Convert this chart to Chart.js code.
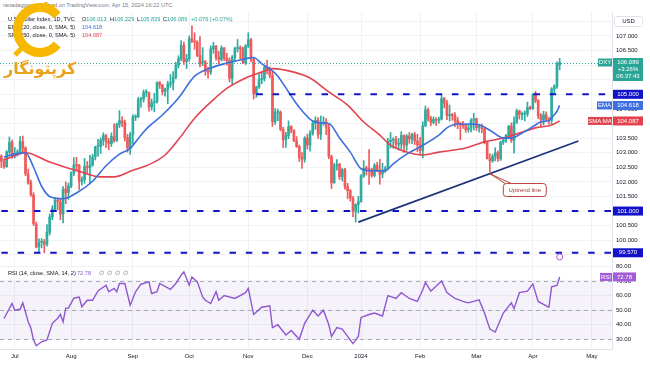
<!DOCTYPE html>
<html>
<head>
<meta charset="utf-8">
<script src="https://cdn.jsdelivr.net/npm/chart.js@4.4.1/dist/chart.umd.min.js"></script>
<style>
  body { margin: 0; background: #fff; width: 650px; height: 365px; overflow: hidden; position: relative; font-family: 'Liberation Sans', Arial, sans-serif; }
  #main { position: absolute; left: 0; top: 12px; }
  #rsi { position: absolute; left: 0; top: 263px; }
  .t { position: absolute; white-space: pre; font-size: 5.6px; line-height: 7px; color: #131722; }
  .teal { color: #26a69a; }
  #logo { position: absolute; left: 0; top: 0; }
  #fa { position: absolute; left: 4px; top: 59px; font-family: 'DejaVu Sans', sans-serif; font-weight: bold; font-size: 16px; color: #eaa21c; direction: rtl; }
</style>
</head>
<body>
<canvas id="main" width="650" height="251"></canvas>
<canvas id="rsi" width="650" height="102"></canvas>

<div class="t" style="left:3px;top:2px;color:#787b86">ranadagger published on TradingView.com, Apr 15, 2024 16:22 UTC</div>
<div class="t" style="left:8px;top:16px">U.S. Dollar Index, 1D, TVC</div>
<div class="t" style="left:82px;top:16px">O<span class="teal">106.013</span></div>
<div class="t" style="left:110px;top:16px">H<span class="teal">106.229</span></div>
<div class="t" style="left:137px;top:16px">L<span class="teal">105.839</span></div>
<div class="t" style="left:163px;top:16px">C<span class="teal">106.089</span></div>
<div class="t teal" style="left:191px;top:16px">+0.076 (+0.07%)</div>
<div class="t" style="left:8px;top:24px">EMA (20, close, 0, SMA, 5)</div>
<div class="t" style="left:82px;top:24px;color:#3d6fe0">104.618</div>
<div class="t" style="left:8px;top:32px">SMA (50, close, 0, SMA, 5)</div>
<div class="t" style="left:82px;top:32px;color:#e2444f">104.087</div>
<div class="t" style="left:8px;top:270px">RSI (14, close, SMA, 14, 2)</div>
<div class="t" style="left:77px;top:270px;color:#8f57d1">72.78</div>
<div class="t" style="left:99px;top:270px;color:#787b86">∅  ∅  ∅  ∅</div>

<svg id="logo" width="90" height="62">
  <path d="M57.2,15.5 A22.5,22.5 0 1 0 57.2,44.5" fill="none" stroke="#f6b800" stroke-width="9"/>
  <line x1="27" y1="43" x2="15" y2="55" stroke="#f6b800" stroke-width="5"/>
  <line x1="46" y1="2" x2="46" y2="9" stroke="#f6b800" stroke-width="3"/>
  <line x1="53" y1="4" x2="53" y2="11" stroke="#f6b800" stroke-width="3"/>
</svg>
<div id="fa">کرپتونگار</div>

<script>
const startDate = '2023-06-26';
const holidays = ['2023-12-25', '2024-01-01'];
const barCount = 228;
const monthNames = ['Jul', 'Aug', 'Sep', 'Oct', 'Nov', 'Dec', '2024', 'Feb', 'Mar', 'Apr', 'May'];

// daily OHLC, Jun 26 2023 -> Apr 15 2024
const opens = [
  102.88,102.70,102.52,103.02,103.36,
  102.90,102.98,103.00,103.38,103.16,102.27,101.97,101.55,100.55,99.77,99.93,99.95,99.86,100.27,100.80,101.06,101.37,101.32,100.90,101.75,101.63,
  101.85,102.30,102.60,102.57,102.02,102.08,102.52,102.49,102.58,102.86,103.21,103.22,103.43,103.58,103.38,103.31,103.55,103.42,103.97,104.09,104.05,103.51,103.15,
  103.63,104.22,104.23,104.82,104.84,105.06,105.06,104.57,104.71,104.74,105.40,105.32,105.09,105.18,105.35,105.39,105.58,106.00,106.22,106.68,106.12,
  106.21,106.90,106.82,106.78,106.33,106.10,106.11,105.78,105.76,106.56,106.65,106.26,106.20,106.59,106.24,106.16,105.55,106.26,106.57,106.60,106.56,106.08,
  106.66,106.87,106.20,105.02,105.25,105.50,105.54,105.93,105.87,105.65,104.06,104.38,104.39,103.80,103.44,103.59,103.89,103.77,103.41,103.21,102.82,102.78,
  103.50,103.26,103.66,104.01,104.11,103.63,104.01,104.05,103.88,102.87,101.97,102.55,102.60,102.18,102.42,101.84,101.70,101.45,100.99,101.23,
  101.33,102.20,102.46,102.45,102.41,102.22,102.56,102.36,102.27,102.40,102.45,103.38,103.43,103.46,103.29,103.30,103.59,103.26,103.57,103.47,103.62,103.40,
  103.27,103.07,103.92,104.47,104.17,104.04,104.14,104.11,104.15,104.85,104.70,104.27,104.30,104.27,104.10,103.99,103.95,103.94,103.79,103.84,104.11,
  104.16,103.86,103.86,103.82,103.35,102.80,102.72,102.87,103.00,102.79,103.36,103.43,103.59,103.90,103.42,104.04,104.43,104.31,104.32,104.33,104.55,
  104.51,104.98,104.79,104.26,104.13,104.30,104.15,104.11,105.18,105.27,106.013
];
const highs = [
  102.93,102.80,103.07,103.54,103.43,
  103.18,103.10,103.55,103.57,103.20,102.44,102.06,101.63,100.62,100.05,100.06,100.03,100.54,100.90,101.18,101.47,101.45,101.40,101.84,102.00,101.96,
  102.34,102.83,102.84,102.60,102.17,102.80,102.70,102.91,102.95,103.22,103.46,103.51,103.68,103.63,103.49,103.68,103.99,104.01,104.44,104.23,104.12,103.63,103.70,
  104.30,104.30,104.90,104.90,105.15,105.16,105.08,104.84,105.03,105.43,105.44,105.34,105.21,105.45,105.68,105.78,106.10,106.32,106.84,106.79,106.37,
  107.00,107.35,107.11,106.84,106.98,106.60,106.16,105.92,106.66,106.78,106.68,106.47,106.66,106.60,106.40,106.25,106.33,106.62,106.88,106.66,106.62,106.70,
  107.11,106.92,106.26,105.28,105.69,105.76,105.96,106.17,105.94,105.75,104.51,104.49,104.43,103.87,103.70,104.09,103.93,103.78,103.55,103.26,103.00,103.55,
  103.63,103.76,104.10,104.23,104.20,104.26,104.23,104.17,103.98,102.92,102.64,102.76,102.64,102.46,102.46,101.95,101.74,101.50,101.25,101.50,
  102.25,102.73,102.54,103.11,102.47,102.63,102.67,102.77,102.64,102.53,103.49,103.69,103.51,103.56,103.49,103.72,103.61,103.62,103.69,103.67,103.70,103.63,
  103.53,104.06,104.60,104.53,104.25,104.23,104.20,104.22,104.97,104.90,104.79,104.63,104.35,104.37,104.21,104.04,104.07,103.97,103.97,104.17,104.35,
  104.19,103.97,103.98,103.85,103.39,102.96,102.95,103.17,103.06,103.40,103.51,103.63,103.94,104.02,104.23,104.49,104.46,104.40,104.43,104.73,104.60,
  105.03,105.10,104.82,104.34,104.42,104.40,104.21,105.23,105.33,106.11,106.229
];
const lows = [
  102.49,102.46,102.50,102.94,102.80,
  102.82,102.88,102.94,102.98,102.21,101.92,101.50,100.50,99.74,99.57,99.74,99.57,99.80,100.18,100.70,100.99,101.04,100.70,100.59,101.25,101.40,
  101.80,102.21,102.39,101.74,101.89,101.95,102.30,101.93,102.53,102.75,102.88,102.97,103.25,103.18,103.10,103.21,103.35,103.38,103.86,103.89,103.40,103.02,102.94,
  103.30,104.10,104.20,104.56,104.73,104.92,104.42,104.46,104.40,104.70,105.20,104.98,104.94,104.68,105.24,105.15,105.53,105.90,106.15,106.02,105.88,
  106.13,106.77,106.54,106.29,105.94,105.98,105.65,105.55,105.68,106.41,106.17,106.05,106.14,106.15,106.00,105.42,105.35,106.13,106.45,106.22,106.05,106.02,
  106.60,106.11,104.84,104.90,105.20,105.36,105.45,105.70,105.56,103.90,103.97,104.10,103.75,103.17,103.18,103.48,103.68,103.38,103.18,102.70,102.46,102.67,
  103.12,103.05,103.60,103.80,103.49,103.45,103.94,103.62,102.79,101.77,101.95,102.40,102.08,102.03,101.75,101.42,101.34,100.80,100.62,100.93,
  101.30,102.15,102.23,101.91,102.16,102.17,102.35,101.92,102.14,102.32,102.45,103.16,103.15,103.15,103.09,103.12,103.01,103.08,103.32,103.31,103.28,103.04,
  102.92,102.82,103.89,104.08,103.92,103.99,103.93,104.01,104.12,104.53,104.13,104.08,104.11,103.89,103.82,103.44,103.83,103.70,103.70,103.71,103.78,
  103.76,103.70,103.68,103.30,102.78,102.34,102.67,102.72,102.70,102.73,103.28,103.35,103.48,103.35,102.98,104.00,104.15,104.13,104.09,104.24,104.47,
  104.48,104.71,104.17,103.88,103.95,104.09,103.98,104.00,105.04,105.20,105.839
];
const closes = [
  102.71,102.53,103.03,103.36,102.91,
  102.98,103.03,103.39,103.16,102.28,101.96,101.56,100.57,99.77,99.91,99.94,99.86,100.28,100.80,101.07,101.38,101.33,100.89,101.75,101.62,101.86,
  102.30,102.58,102.56,102.02,102.08,102.53,102.49,102.58,102.85,103.20,103.21,103.43,103.59,103.38,103.32,103.56,103.41,103.96,104.09,104.04,103.51,103.16,103.62,
  104.23,104.23,104.82,104.84,105.06,105.07,104.57,104.71,104.74,105.40,105.32,105.09,105.18,105.35,105.39,105.58,106.00,106.22,106.68,106.12,106.21,
  106.90,106.82,106.79,106.33,106.04,106.11,105.79,105.76,106.56,106.65,106.26,106.20,106.59,106.24,106.16,105.55,106.26,106.57,106.60,106.56,106.08,106.66,
  106.87,106.20,105.02,105.25,105.50,105.54,105.93,105.87,105.65,104.06,104.38,104.39,103.80,103.44,103.59,103.89,103.77,103.41,103.21,102.82,102.78,103.50,
  103.26,103.66,104.01,104.11,103.63,104.01,104.05,103.88,102.87,101.97,102.55,102.60,102.18,102.42,101.84,101.70,101.45,100.99,101.23,101.33,
  102.20,102.46,102.45,102.41,102.22,102.56,102.36,102.27,102.40,102.45,103.38,103.43,103.46,103.29,103.30,103.59,103.26,103.57,103.47,103.62,103.40,103.27,
  103.07,103.92,104.47,104.17,104.04,104.14,104.11,104.15,104.85,104.70,104.27,104.30,104.27,104.10,103.99,103.95,103.94,103.79,103.84,104.11,104.16,
  103.86,103.86,103.82,103.35,102.80,102.72,102.87,103.00,102.79,103.36,103.43,103.59,103.90,103.42,104.04,104.43,104.31,104.32,104.33,104.55,104.51,
  104.98,104.79,104.26,104.13,104.30,104.15,104.11,105.18,105.27,106.04,106.089
];

// [bar index, value]
const emaPts = [
  [1,102.85],[5,102.95],[9,103.0],[12,102.5],[15,101.85],[18,101.5],[23,101.42],[28,101.62],[34,102.02],[39,102.55],
  [44,102.95],[48,103.15],[52,103.6],[55,103.9],[60,104.29],[66,104.87],[72,105.62],[78,105.9],[84,106.07],[91,106.22],
  [94,106.26],[97,106.05],[101,105.8],[103,105.62],[107,105.08],[109,104.8],[111,104.55],[116,104.08],[119,104.02],[122,104.0],
  [126,103.5],[130,103.02],[134,102.45],[138,102.38],[143,102.38],[146,102.62],[151,102.95],[157,103.25],[163,103.6],[166,103.85],
  [170,103.98],[176,103.98],[179,103.92],[183,103.71],[187,103.5],[190,103.5],[194,103.67],[199,103.95],[201,104.06],[204,104.1],
  [205,104.2],[207,104.42],[208,104.618]
];
const smaPts = [
  [1,102.75],[9,103.0],[18,102.68],[30,102.33],[37,102.17],[42,102.17],[49,102.4],[54,102.55],[61,102.92],[66,103.45],
  [72,104.18],[78,104.73],[84,105.2],[91,105.56],[97,105.76],[101,105.88],[109,105.76],[115,105.56],[122,105.08],[129,104.63],
  [135,104.05],[141,103.6],[145,103.26],[151,103.02],[157,102.92],[163,103.02],[173,103.16],[180,103.37],[187,103.5],[193,103.67],
  [199,103.85],[205,103.95],[208,104.087]
];
const rsiPts = [
  [1,44.3],[4,54.6],[5,50],[7,50.6],[8,55],[10,42],[11,37.7],[12,29.5],[13,25.6],[15,28.3],[17,29.5],[19,41],[21,44.5],[22,47.2],
  [23,42],[24,51.4],[25,51.4],[27,58.2],[29,59],[30,52.3],[32,56.8],[34,56.8],[36,63.2],[39,67.1],[40,62.6],[42,64.9],[43,62.6],
  [44,68.3],[46,68.3],[48,53.4],[50,62.6],[52,67.8],[55,69.4],[56,61.4],[58,62.6],[59,68.3],[63,64.2],[65,68.3],[67,74],[68,76.3],
  [70,67.1],[71,72.8],[73,69.4],[75,59.1],[76,56.8],[78,54.5],[80,62.6],[81,56.8],[83,60],[87,58],[91,62],[92,65],[94,47],[97,52],
  [100,53],[101,38],[103,40],[106,33],[108,36],[111,30],[113,41],[116,50],[118,46],[120,50],[122,40],[123,32],[125,38],[127,37],
  [129,32],[131,27],[133,32],[134,45],[137,47],[139,48],[142,46],[144,60],[147,58],[149,62],[152,58],[155,56],[157,64],[158,69],
  [160,63],[164,70],[166,62],[169,58],[172,56],[174,55],[178,57],[180,48],[182,37],[184,35],[187,48],[190,55],[191,51],[193,62],
  [196,63],[198,68],[200,56],[203,53],[204,52],[205,66],[207,67],[208,72.78]
];

const levels = [105, 101, 99.57];
const levelFrom = [95, 0, 0];
const trendPts = [[133, 100.62], [215, 103.40]];

const labels = [];
const day = new Date(startDate + 'T00:00:00Z');
while (labels.length < barCount) {
  const s = day.toISOString().slice(0, 10);
  const wd = day.getUTCDay();
  if (wd !== 0 && wd !== 6 && !holidays.includes(s)) labels.push(s);
  day.setUTCDate(day.getUTCDate() + 1);
}
const monthTicks = {};
let mi = 0;
for (let i = 1; i < labels.length; i++) {
  if (labels[i].slice(5, 7) !== labels[i - 1].slice(5, 7)) monthTicks[i] = monthNames[mi++];
}

const up = '#2fab9f', down = '#ef5a5a';
const emaColor = '#3d6fe0', smaColor = '#e2444f';
const levelColor = '#1212c8';
const gridColor = '#f0f2f6';
const axisFont = { family: "'Liberation Sans', Arial, sans-serif", size: 6 };
const candleColor = opens.map((o, i) => closes[i] >= o ? up : down);
const toXY = pts => pts.map(p => ({ x: labels[p[0]], y: p[1] }));

function tag(ctx, x, y, w, h, bg, lines, fg) {
  ctx.fillStyle = bg;
  ctx.fillRect(x, y - h / 2, w, h);
  ctx.fillStyle = fg || '#fff';
  ctx.font = "6px 'Liberation Sans', Arial, sans-serif";
  ctx.textAlign = 'center';
  ctx.textBaseline = 'middle';
  lines.forEach((t, k) => ctx.fillText(t, x + w / 2, y + k * 7));
}

function vFit(w) {
  return s => { s.width = w; s.paddingTop = 0; s.paddingBottom = 0; };
}

const mainOverlay = {
  id: 'mainOverlay',
  afterDatasetsDraw(chart) {
    const { ctx, chartArea, scales: { x, y } } = chart;
    ctx.save();
    ctx.lineWidth = 2;
    ctx.strokeStyle = levelColor;
    ctx.setLineDash([6.5, 9.8]);
    levels.forEach((v, k) => {
      const py = y.getPixelForValue(v);
      ctx.beginPath();
      ctx.moveTo(x.getPixelForValue(levelFrom[k]), py);
      ctx.lineTo(chartArea.right, py);
      ctx.stroke();
    });
    const last = closes[closes.length - 1];
    const ly = Math.round(y.getPixelForValue(last)) + 0.5;
    ctx.lineWidth = 1;
    ctx.strokeStyle = up;
    ctx.setLineDash([1, 2]);
    ctx.beginPath();
    ctx.moveTo(chartArea.left, ly);
    ctx.lineTo(chartArea.right, ly);
    ctx.stroke();
    ctx.setLineDash([]);

    // callout
    const bx = x.getPixelForValue(187), by = y.getPixelForValue(101.72);
    const tx = x.getPixelForValue(182), ty = y.getPixelForValue(102.28);
    ctx.strokeStyle = '#b5443c';
    ctx.fillStyle = '#fff';
    ctx.lineWidth = 1;
    ctx.beginPath();
    ctx.roundRect(bx, by - 6.5, 43, 13, 3);
    ctx.fill();
    ctx.stroke();
    ctx.beginPath();
    ctx.moveTo(bx + 2, by - 6.5);
    ctx.lineTo(tx, ty);
    ctx.lineTo(bx + 8, by - 6.5);
    ctx.stroke();
    ctx.fillStyle = '#a23b33';
    ctx.font = "6px 'Liberation Sans', Arial, sans-serif";
    ctx.textAlign = 'center';
    ctx.textBaseline = 'middle';
    ctx.fillText('Uptrend line', bx + 21.5, by);

    // small marker at the bottom
    ctx.strokeStyle = '#b05bd6';
    ctx.beginPath();
    ctx.arc(x.getPixelForValue(208), chartArea.bottom - 6, 3, 0, Math.PI * 2);
    ctx.stroke();
    ctx.restore();
  },
  afterDraw(chart) {
    const { ctx, chartArea, scales: { y } } = chart;
    const ax = chartArea.right + 1;
    ctx.save();
    // USD box
    ctx.fillStyle = '#fff';
    ctx.strokeStyle = '#e0e3eb';
    ctx.beginPath();
    ctx.roundRect(ax + 1.5, 4.5, 28, 10, 2);
    ctx.fill();
    ctx.stroke();
    ctx.fillStyle = '#131722';
    ctx.font = "6px 'Liberation Sans', Arial, sans-serif";
    ctx.textAlign = 'center';
    ctx.textBaseline = 'middle';
    ctx.fillText('USD', ax + 15.5, 9.5);

    levels.forEach(v => tag(ctx, ax, y.getPixelForValue(v), 30, 9, levelColor, [v.toFixed(3)]));
    const ema = emaPts[emaPts.length - 1][1], sma = smaPts[smaPts.length - 1][1];
    const ey = y.getPixelForValue(ema), sy = y.getPixelForValue(sma);
    tag(ctx, ax - 16, ey, 15, 8, emaColor, ['EMA']);
    tag(ctx, ax, ey, 30, 9, emaColor, [ema.toFixed(3)]);
    tag(ctx, ax - 25, sy, 24, 8, smaColor, ['SMA:MA']);
    tag(ctx, ax, sy, 30, 9, smaColor, [sma.toFixed(3)]);

    const last = closes[closes.length - 1];
    const py = y.getPixelForValue(last);
    tag(ctx, ax - 15, py, 14, 8, '#2ba596', ['DXY']);
    ctx.fillStyle = '#2ba596';
    ctx.fillRect(ax, py - 4.5, 30, 23);
    ctx.fillStyle = '#fff';
    ctx.fillText(last.toFixed(3), ax + 15, py);
    ctx.fillText('+3.26%', ax + 15, py + 7);
    ctx.fillText('06:37:43', ax + 15, py + 14);
    ctx.restore();
  }
};

new Chart(document.getElementById('main'), {
  type: 'bar',
  data: {
    labels: labels,
    datasets: [
      { type: 'line', data: toXY(trendPts), borderColor: '#1f3378', borderWidth: 1.8, pointRadius: 0, order: 0 },
      { type: 'line', data: toXY(emaPts), borderColor: emaColor, borderWidth: 1.6, pointRadius: 0, cubicInterpolationMode: 'monotone', order: 1 },
      { type: 'line', data: toXY(smaPts), borderColor: smaColor, borderWidth: 1.6, pointRadius: 0, cubicInterpolationMode: 'monotone', order: 1 },
      { data: opens.map((o, i) => [o, closes[i]]), backgroundColor: candleColor, barThickness: 2, minBarLength: 1, grouped: false, order: 2 },
      { data: lows.map((l, i) => [l, highs[i]]), backgroundColor: candleColor, barThickness: 1, grouped: false, order: 3 }
    ]
  },
  options: {
    responsive: false,
    animation: false,
    devicePixelRatio: 1,
    layout: { padding: 0 },
    plugins: { legend: { display: false }, tooltip: { enabled: false } },
    scales: {
      x: {
        offset: true,
        ticks: { display: false },
        grid: { offset: false, drawTicks: false, color: c => monthTicks[c.index] !== undefined ? gridColor : 'rgba(0,0,0,0)' },
        border: { display: true, color: '#e0e3eb' },
        afterFit: s => { s.height = 0; s.paddingLeft = 0; s.paddingRight = 0; }
      },
      y: {
        position: 'right',
        min: 99.22,
        max: 107.82,
        ticks: { stepSize: 0.5, includeBounds: false, padding: 4, font: axisFont, color: '#131722', callback: v => v.toFixed(3) },
        grid: { drawTicks: false, color: gridColor },
        border: { display: true, color: '#e0e3eb' },
        afterFit: vFit(38)
      }
    }
  },
  plugins: [mainOverlay]
});

const rsiOverlay = {
  id: 'rsiOverlay',
  beforeDatasetsDraw(chart) {
    const { ctx, chartArea, scales: { y } } = chart;
    ctx.save();
    const y70 = y.getPixelForValue(70), y30 = y.getPixelForValue(30);
    ctx.fillStyle = 'rgba(126, 87, 194, 0.08)';
    ctx.fillRect(chartArea.left, y70, chartArea.right - chartArea.left, y30 - y70);
    ctx.strokeStyle = '#a8abb5';
    ctx.lineWidth = 1;
    ctx.setLineDash([4, 4]);
    [70, 50, 30].forEach(v => {
      const py = Math.round(y.getPixelForValue(v)) + 0.5;
      ctx.beginPath();
      ctx.moveTo(chartArea.left, py);
      ctx.lineTo(chartArea.right, py);
      ctx.stroke();
    });
    ctx.restore();
  },
  afterDraw(chart) {
    const { ctx, chartArea, scales: { y } } = chart;
    const ax = chartArea.right + 1;
    const last = rsiPts[rsiPts.length - 1][1];
    const py = y.getPixelForValue(last);
    ctx.save();
    tag(ctx, ax - 13, py, 12, 8, '#a35bd8', ['RSI']);
    tag(ctx, ax, py, 23, 9, '#a35bd8', [last.toFixed(2)]);
    ctx.restore();
  }
};

new Chart(document.getElementById('rsi'), {
  type: 'line',
  data: {
    labels: labels,
    datasets: [
      { data: toXY(rsiPts), borderColor: '#8f57d1', borderWidth: 1.4, pointRadius: 0, tension: 0 }
    ]
  },
  options: {
    responsive: false,
    animation: false,
    devicePixelRatio: 1,
    layout: { padding: { top: 1 } },
    plugins: { legend: { display: false }, tooltip: { enabled: false } },
    scales: {
      x: {
        offset: true,
        ticks: { autoSkip: false, maxRotation: 0, minRotation: 0, padding: 4, font: axisFont, color: '#131722', callback: (v, i) => monthTicks[i] || '' },
        grid: { offset: false, drawTicks: false, color: c => monthTicks[c.index] !== undefined ? gridColor : 'rgba(0,0,0,0)' },
        border: { display: true, color: '#e0e3eb' },
        afterFit: s => { s.height = 16; s.paddingLeft = 0; s.paddingRight = 0; }
      },
      y: {
        position: 'right',
        min: 23.35,
        max: 81.66,
        ticks: { stepSize: 10, includeBounds: false, padding: 4, font: axisFont, color: '#131722', callback: v => v.toFixed(2) },
        grid: { drawTicks: false, color: gridColor },
        border: { display: true, color: '#e0e3eb' },
        afterFit: vFit(38)
      }
    }
  },
  plugins: [rsiOverlay]
});
</script>
</body>
</html>
